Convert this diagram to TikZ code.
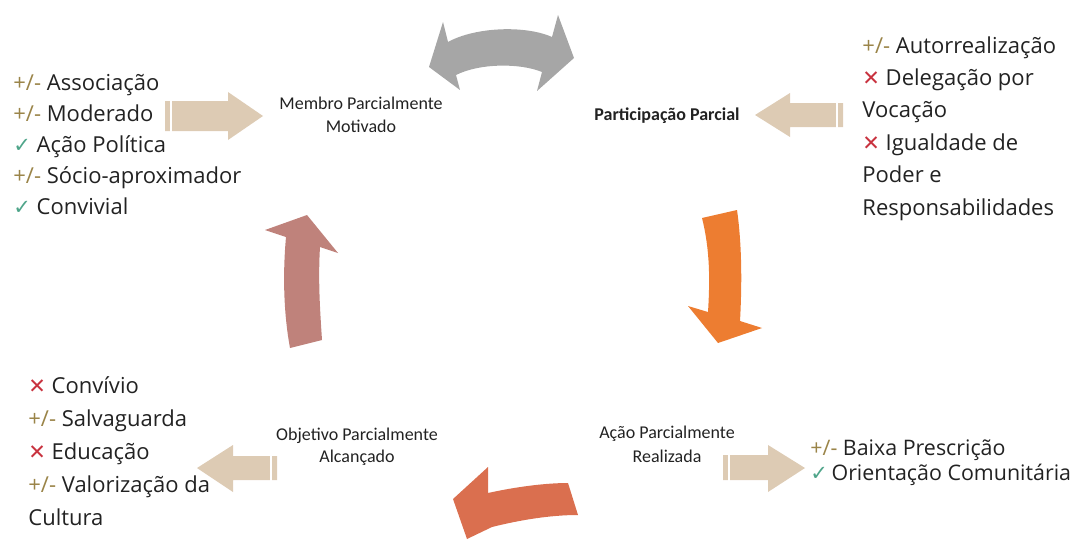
\documentclass[tikz,border=0pt]{standalone}
\usepackage{fontspec}
\setmainfont{Open Sans}
\newfontfamily\labelfont{Carlito}
\newfontfamily\markfont{DejaVu Sans}
\usetikzlibrary{positioning}

\definecolor{ink}{HTML}{222222}
\definecolor{tanarrow}{HTML}{DDCBB4}
\definecolor{grayarrow}{HTML}{A6A6A6}
\definecolor{orangearrow}{HTML}{ED7D31}
\definecolor{rosearrow}{HTML}{BF827B}
\definecolor{redarrow}{HTML}{DA6F4F}
\definecolor{partialcol}{HTML}{9A8448}
\definecolor{okcol}{HTML}{4FA58A}
\definecolor{failcol}{HTML}{C8323F}

\newcommand{\partialmark}{\textcolor{partialcol}{+/-}}
\newcommand{\okmark}{{\markfont\fontsize{10.5}{10}\selectfont\textcolor{okcol}{✓}}}
\newcommand{\failmark}{{\markfont\fontsize{10.5}{10}\selectfont\textcolor{failcol}{✕}}}

\begin{document}
\begin{tikzpicture}[x=0.5pt, y=-0.5pt,
    listtext/.style={font=\fontsize{11}{16}\selectfont, text=ink, align=left, inner sep=0pt, anchor=base west},
    steplabel/.style={font=\labelfont\fontsize{9}{11}\selectfont, text=ink, align=center, inner sep=0pt, anchor=base},
    stripe/.style={white, line width=0.6pt}]
    \useasboundingbox (0,0) rectangle (1079,540);

    % Cycle labels (anchored at the last baseline)
    \node[steplabel] (membro) at (361,132) {Membro Parcialmente\\Motivado};
    \node[steplabel, font=\labelfont\bfseries\fontsize{9}{11}\selectfont] (participacao) at (667,120) {Participação Parcial};
    \node[steplabel, font=\labelfont\fontsize{9}{12}\selectfont] (acao) at (667,462) {Ação Parcialmente\\Realizada};
    \node[steplabel] (objetivo) at (357,462) {Objetivo Parcialmente\\Alcançado};

    % Criteria lists
    \node[listtext, font=\fontsize{11}{15.5}\selectfont] (listmembro) at (13,214)
        {\partialmark{} Associação\\\partialmark{} Moderado\\\okmark{} Ação Política\\\partialmark{} Sócio-aproximador\\\okmark{} Convivial};
    \node[listtext, font=\fontsize{11}{16.2}\selectfont] (listpart) at (862,215)
        {\partialmark{} Autorrealização\\\failmark{} Delegação por\\Vocação\\\failmark{} Igualdade de\\Poder e\\Responsabilidades};
    \node[listtext, font=\fontsize{10.7}{12.5}\selectfont] (listacao) at (810,480)
        {\partialmark{} Baixa Prescrição\\\okmark{}\,Orientação Comunitária};
    \node[listtext, font=\fontsize{11}{16.5}\selectfont] (listobj) at (28,525)
        {\failmark{} Convívio\\\partialmark{} Salvaguarda\\\failmark{} Educação\\\partialmark{} Valorização da\\Cultura};

    % Block arrows
    \fill[tanarrow] (165,101) -- (228,101) -- (228,92) -- (263,116) -- (228,140) -- (228,131) -- (165,131) -- cycle;
    \draw[stripe] (171,100) -- (171,132);
    \fill[tanarrow] (843,103) -- (790,103) -- (790,93) -- (755,115) -- (790,137) -- (790,127) -- (843,127) -- cycle;
    \draw[stripe] (837,102) -- (837,128);
    \fill[tanarrow] (277,456) -- (233,456) -- (233,445) -- (197,468) -- (233,492) -- (233,480) -- (277,480) -- cycle;
    \draw[stripe] (271,455) -- (271,481);
    \fill[tanarrow] (723,455) -- (768,455) -- (768,445) -- (805,468) -- (768,492) -- (768,480) -- (723,480) -- cycle;
    \draw[stripe] (729,454) -- (729,481);

    % Curved arrows
    \fill[grayarrow] (429,67) -- (443,22) -- (448,42) .. controls (475,27) and (525,25) .. (552,37)
        -- (558,15) -- (574,58) -- (537,91) -- (542,72) .. controls (520,63) and (480,63) .. (456,75)
        -- (460,90) -- cycle;
    \fill[orangearrow] (702,218) .. controls (710,250) and (710,280) .. (708,312) -- (688,306) -- (718,343)
        -- (762,328) -- (740,321) .. controls (742,285) and (742,245) .. (737,210) -- cycle;
    \fill[redarrow] (453,499) -- (488,467) -- (488,493) .. controls (515,487) and (545,483) .. (568,483)
        -- (578,515) .. controls (550,515) and (520,520) .. (492,527) -- (467,539) -- cycle;
    \fill[rosearrow] (290,348) .. controls (283,310) and (283,270) .. (286,237) -- (265,230) -- (307,215)
        -- (338,253) -- (320,247) .. controls (318,280) and (320,310) .. (322,340) -- cycle;
\end{tikzpicture}
\end{document}
